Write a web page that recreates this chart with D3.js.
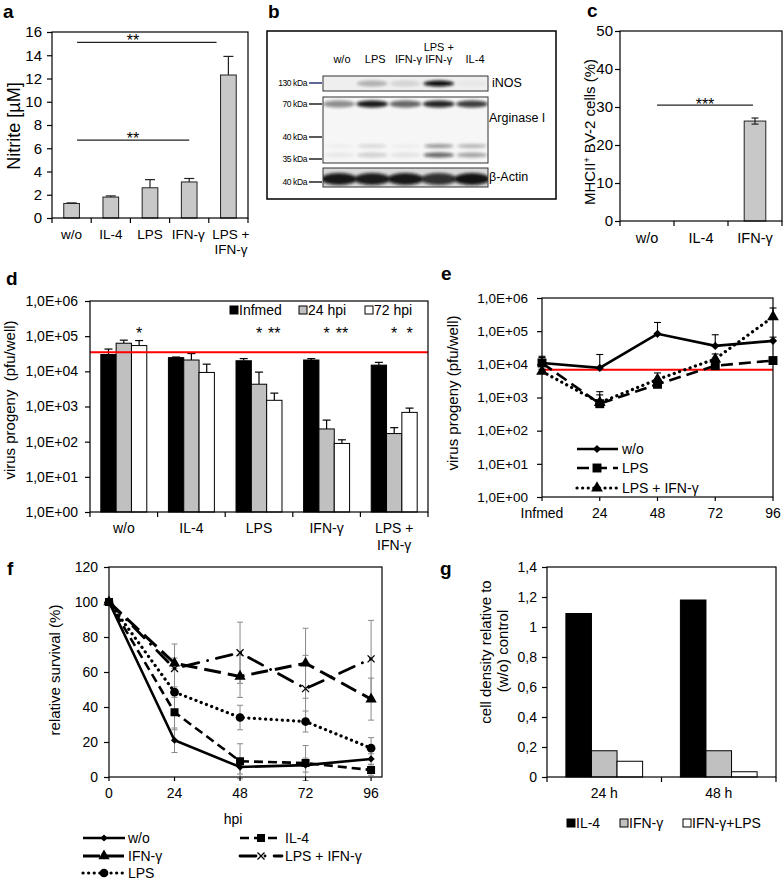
<!DOCTYPE html>
<html><head><meta charset="utf-8">
<script src="https://cdn.jsdelivr.net/npm/d3@7"></script>
<style>
body{margin:0;background:#fff}
text{font-family:"Liberation Sans",Arial,Helvetica,sans-serif;fill:#000}
</style>
</head><body>
<svg id="c" width="784" height="880"></svg>
<script>
// ---------------- DATA ----------------
// a: nitrite
const aCats = ["w/o","IL-4","LPS","IFN-γ","LPS + IFN-γ"];
const aVals = [1.25,1.8,2.6,3.1,12.3];
const aErr  = [0.05,0.1,0.7,0.3,1.6];
const aTicks = [0,2,4,6,8,10,12,14,16];
const aSig = [["w/o","LPS + IFN-γ",15.1,"**"],["w/o","IFN-γ",6.7,"**"]];
// b: western blot (band intensities 0..1)
const bLanes = ["w/o","LPS","IFN-γ","LPS + IFN-γ","IL-4"];
const bINOS  = [0.0,0.28,0.12,1.0,0.03];
const bArg70 = [0.45,0.95,0.62,0.9,0.8];
const bArg37 = [0.03,0.12,0.03,0.4,0.28];
const bArg35 = [0.06,0.16,0.08,0.62,0.35];
const bActin = [0.95,0.93,0.95,0.82,0.97];
const bMarkers = ["130 kDa","70 kDa","40 kDa","35 kDa","40 kDa"];
const bTargets = ["iNOS","Arginase I","β-Actin"];
// c: MHCII
const cCats = ["w/o","IL-4","IFN-γ"];
const cVals = [0,0,26.3];
const cErr  = [0,0,0.8];
const cTicks = [0,10,20,30,40,50];
// d: virus progeny bars
const dGroups = ["w/o","IL-4","LPS","IFN-γ","LPS + IFN-γ"];
const dSeries = ["Infmed","24 hpi","72 hpi"];
const dInfmed = [3.0e4,2.45e4,2.0e4,2.1e4,1.5e4];
const dInfmedErr = [1.3e4,0.1e4,0.3e4,0.2e4,0.3e4];
const d24 = [6.3e4,2.1e4,4.3e3,230,170];
const d24Err = [1.4e4,1.1e4,5.2e3,180,80];
const d72 = [5.4e4,9.3e3,1.5e3,89,680];
const d72Err = [2.1e4,6.7e3,0.9e3,24,220];
const dRef = 3.5e4;
const dStars = [["w/o","72 hpi","*"],["LPS","24 hpi","*"],["LPS","72 hpi","**"],["IFN-γ","24 hpi","*"],["IFN-γ","72 hpi","**"],["LPS + IFN-γ","24 hpi","*"],["LPS + IFN-γ","72 hpi","*"]];
const logTicks = [1,10,100,1e3,1e4,1e5,1e6];
// e: virus progeny kinetics
const eX = ["Infmed","24","48","72","96"];
const eWo = [1.1e4,7.8e3,8.3e4,3.6e4,5.1e4];
const eWoErr = [0.65e4,1.2e4,1.0e5,4.2e4,1.5e4];
const eLPS = [1.1e4,650,2.5e3,9.1e3,1.3e4];
const eLPSErr = [0.5e4,550,1.0e3,2.0e3,2.0e3];
const eLPSIFN = [6.1e3,700,3.5e3,1.45e4,2.7e5];
const eLPSIFNErr = [1.0e3,800,2.0e3,0.6e4,2.3e5];
const eRef = 6.9e3;
// f: relative survival
const fX = [0,24,48,72,96];
const fWo = [100,21,5.7,6.8,10.3];
const fWoErr = [0,7,4,4,3];
const fIL4 = [100,37,9,8,4];
const fIL4Err = [0,10,10,10,3];
const fIFN = [100,65,57.5,65,44.5];
const fIFNErr = [0,3,12,20,12];
const fLPSIFN = [100,62,71,50.5,67.5];
const fLPSIFNErr = [0,14,17.5,19,22];
const fLPS = [100,48.5,34,31.7,16.5];
const fLPSErr = [0,3,7,6,6];
const fYTicks = [0,20,40,60,80,100,120];
// g: cell density
const gCats = ["24 h","48 h"];
const gSeries = ["IL-4","IFN-γ","IFN-γ+LPS"];
const gIL4 = [1.09,1.18];
const gIFN = [0.175,0.175];
const gIFNLPS = [0.105,0.035];
const gTicks = [0,0.2,0.4,0.6,0.8,1,1.2,1.4];

// ---------------- HELPERS ----------------
const FONT = '"Liberation Sans", Arial, Helvetica, sans-serif';
const svg = d3.select("#c");
svg.append("rect").attr("width",784).attr("height",880).attr("fill","#fff");
const defs = svg.append("defs");
const blur = defs.append("filter").attr("id","blur").attr("x","-30%").attr("y","-100%").attr("width","160%").attr("height","300%");
blur.append("feGaussianBlur").attr("stdDeviation",1.4);

function txt(g,x,y,s,o={}){
  const t=g.append("text").attr("x",x).attr("y",y).text(s)
    .attr("font-size",o.size||14).attr("text-anchor",o.anchor||"middle");
  if(o.weight) t.attr("font-weight",o.weight);
  if(o.baseline) t.attr("dominant-baseline",o.baseline);
  if(o.rotate) t.attr("transform",`rotate(-90,${x},${y})`);
  return t;
}
function splitLabel(s){ return s.split(/(?<=\+) /); }
function multi(g,x,y,s,lh,o){ splitLabel(s).forEach((l,i)=>txt(g,x,y+i*lh,l,o)); }
function yAxis(g,scale,x,ticks,fmt,size,pad){
  const a=g.append("g").attr("transform",`translate(${x},0)`)
    .call(d3.axisLeft(scale).tickValues(ticks).tickFormat(fmt).tickSize(5).tickSizeOuter(0).tickPadding(pad));
  a.select(".domain").remove();
  a.attr("font-size",size).attr("font-family",FONT);
  a.selectAll("line").attr("stroke","#000").attr("stroke-width",1.2);
  a.selectAll("text").attr("fill","#000");
}
function xTicks(g,xs,y,len){
  xs.forEach(x=>g.append("line").attr("x1",x).attr("x2",x).attr("y1",y).attr("y2",y+len).attr("stroke","#000").attr("stroke-width",1.2));
}
function edges(scale,n){ const [r0,r1]=scale.range(); return d3.range(n+1).map(i=>r0+(r1-r0)*i/n); }
function frame(g,x0,y0,x1,y1){
  g.append("rect").attr("x",x0).attr("y",y0).attr("width",x1-x0).attr("height",y1-y0)
   .attr("fill","none").attr("stroke","#000").attr("stroke-width",1.2);
}
function line(g,x1,y1,x2,y2,c="#000",w=1){
  return g.append("line").attr("x1",x1).attr("y1",y1).attr("x2",x2).attr("y2",y2).attr("stroke",c).attr("stroke-width",w);
}
function errBar(g,cx,yFrom,yTo,cap,c="#000",w=1){
  line(g,cx,yFrom,cx,yTo,c,w);
  line(g,cx-cap/2,yTo,cx+cap/2,yTo,c,w);
}
function panelLabel(x,y,s){ txt(svg,x,y,s,{size:19,weight:"bold",anchor:"start"}); }

// ---------------- PANEL A ----------------
{
  const g=svg.append("g");
  const x=d3.scaleBand().domain(aCats).range([52,248]).paddingInner(0.6).paddingOuter(0.3);
  const y=d3.scaleLinear().domain([0,16]).range([218,32]);
  const bw=x.bandwidth();
  aCats.forEach((c,i)=>{
    g.append("rect").attr("x",x(c)).attr("y",y(aVals[i])).attr("width",bw).attr("height",y(0)-y(aVals[i]))
     .attr("fill","#c8c8c8").attr("stroke","#222").attr("stroke-width",1);
    errBar(g,x(c)+bw/2,y(aVals[i]),y(aVals[i]+aErr[i]),10,"#222",1.2);
    multi(g,x(c)+bw/2+(i===4?2.5:(i===3?-1:0)),239,c,14.5,{size:13.5});
  });
  yAxis(g,y,52,aTicks,d3.format("d"),15,5);
  xTicks(g,edges(x,aCats.length),218,5);
  frame(g,52,32,248,218);
  aSig.forEach(([f,t,v,s],i)=>{
    const x1=x(f)+bw*0.85;
    const x2=i===0? x(t)-4 : x(t)+bw/2;
    line(g,x1,y(v),x2,y(v),"#222",1.3);
    txt(g,x1+56,y(v)+3.5,s,{size:16});
  });
  txt(g,14,126,"Nitrite [µM]",{size:18,rotate:true,baseline:"central"});
  panelLabel(3,18,"a");
}

// ---------------- PANEL B ----------------
{
  const g=svg.append("g");
  g.append("rect").attr("x",267).attr("y",31).attr("width",289).attr("height",168).attr("fill","#fff").attr("stroke","#000").attr("stroke-width",1.5);
  const x=d3.scaleBand().domain(bLanes).range([323,488]).paddingInner(0.04);
  const bw=x.bandwidth();
  bLanes.forEach((l,k)=>{
    const parts=splitLabel(l);
    parts.forEach((p,i)=>txt(g,x(l)+bw/2+(k===3?0:3),63-(parts.length-1-i)*12,p,{size:11}));
  });
  const strips=[{y:76,h:15,fill:"#efefef"},{y:97,h:66,fill:"#f6f6f6"},{y:168,h:19,fill:"#d8d8d8"}];
  strips.forEach((s,k)=>{
    const id="clip"+k;
    defs.append("clipPath").attr("id",id).append("rect").attr("x",323).attr("y",s.y).attr("width",165).attr("height",s.h);
    g.append("rect").attr("x",323).attr("y",s.y).attr("width",165).attr("height",s.h).attr("fill",s.fill);
    s.g=g.append("g").attr("clip-path",`url(#${id})`);
  });
  function bands(sg,vals,cy,h,rxf){
    vals.forEach((v,i)=>{
      sg.append("ellipse").attr("cx",x(bLanes[i])+bw/2).attr("cy",cy).attr("rx",bw*rxf).attr("ry",h/2)
        .attr("fill","#0a0a0a").attr("opacity",v).attr("filter","url(#blur)");
    });
  }
  bands(strips[0].g,bINOS,83.5,6,0.48);
  bands(strips[1].g,bArg70,104,7,0.5);
  bands(strips[1].g,bArg37,146,4,0.46);
  bands(strips[1].g,bArg35,155,5,0.48);
  bands(strips[2].g,bActin,179,12,0.56);
  strips.forEach(s=>g.append("rect").attr("x",323).attr("y",s.y).attr("width",165).attr("height",s.h).attr("fill","none").attr("stroke","#333").attr("stroke-width",1));
  const my=[83,104,137,159,182];
  bMarkers.forEach((m,i)=>{
    g.append("text").attr("x",307).attr("y",my[i]).attr("dy","0.35em").attr("text-anchor","end")
     .attr("font-size",8.5).attr("letter-spacing",-0.4).attr("font-family",'"Liberation Sans Narrow","Liberation Sans",Arial').text(m);
    line(g,309,my[i],322,my[i],i===0?"#2a3470":"#222",1.5);
  });
  const ty=[83,118,177];
  bTargets.forEach((t,i)=>txt(g,i===0?492:489,ty[i],t,{size:12.5,anchor:"start",baseline:"central"}));
  panelLabel(268,18,"b");
}

// ---------------- PANEL C ----------------
{
  const g=svg.append("g");
  const x=d3.scaleBand().domain(cCats).range([620,782]).paddingInner(0.6).paddingOuter(0.3);
  const y=d3.scaleLinear().domain([0,50]).range([221,31]);
  const bw=x.bandwidth();
  cCats.forEach((c,i)=>{
    if(cVals[i]>0){
      g.append("rect").attr("x",x(c)).attr("y",y(cVals[i])).attr("width",bw).attr("height",y(0)-y(cVals[i]))
       .attr("fill","#c8c8c8").attr("stroke","#222").attr("stroke-width",1);
      errBar(g,x(c)+bw/2,y(cVals[i]-cErr[i]),y(cVals[i]+cErr[i]),7,"#222",1.2);
      line(g,x(c)+bw/2-3.5,y(cVals[i]-cErr[i]),x(c)+bw/2+3.5,y(cVals[i]-cErr[i]),"#222",1.2);
    }
    txt(g,x(c)+bw/2,243,c,{size:14.5});
  });
  yAxis(g,y,620,cTicks,d3.format("d"),15,2);
  xTicks(g,edges(x,cCats.length),221,5);
  frame(g,620,31,782,221);
  line(g,657,y(30.5),753,y(30.5),"#222",1.3);
  txt(g,705,y(30.5)+5,"***",{size:16});
  const t=g.append("text").attr("x",0).attr("y",0).attr("font-size",15).attr("text-anchor","middle")
    .attr("transform","translate(595,132) rotate(-90)");
  t.append("tspan").text("MHCII");
  t.append("tspan").attr("font-size",9).attr("baseline-shift","super").text("+");
  t.append("tspan").text(" BV-2 cells (%)");
  panelLabel(587,17,"c");
}

// ---------------- PANEL D ----------------
{
  const g=svg.append("g");
  const x0=d3.scaleBand().domain(dGroups).range([90,428]).paddingInner(0.32).paddingOuter(0.16);
  const x1=d3.scaleBand().domain(dSeries).range([0,x0.bandwidth()]);
  const y=d3.scaleLog().domain([1,1e6]).range([512,301]);
  const vals={"Infmed":dInfmed,"24 hpi":d24,"72 hpi":d72};
  const errs={"Infmed":dInfmedErr,"24 hpi":d24Err,"72 hpi":d72Err};
  const fills={"Infmed":"#000","24 hpi":"#c0c0c0","72 hpi":"#fff"};
  const bw=x1.bandwidth();
  dGroups.forEach((gr,i)=>{
    dSeries.forEach(s=>{
      const v=vals[s][i], e=errs[s][i], cx=x0(gr)+x1(s)+bw/2;
      errBar(g,cx,y(v),y(v+e),8,"#000",1.2);
      g.append("rect").attr("x",x0(gr)+x1(s)).attr("y",y(v)).attr("width",bw).attr("height",y(1)-y(v))
       .attr("fill",fills[s]).attr("stroke","#000").attr("stroke-width",1);
    });
    multi(g,x0(gr)+x0.bandwidth()/2,533,gr,17,{size:14});
  });
  line(g,90,y(dRef),428,y(dRef),"#ff0000",2);
  dStars.forEach(([gr,s,t])=>txt(g,x0(gr)+x1(s)+bw/2,339,t,{size:16}));
  yAxis(g,y,90,logTicks,d=>"1,0E+"+String(Math.round(Math.log10(d))).padStart(2,"0"),14,7);
  xTicks(g,edges(x0,dGroups.length),512,5);
  frame(g,90,301,428,512);
  const lx=[230,299,365];
  dSeries.forEach((s,i)=>{
    g.append("rect").attr("x",lx[i]).attr("y",306).attr("width",8).attr("height",8).attr("fill",fills[s]).attr("stroke","#000").attr("stroke-width",1);
    txt(g,lx[i]+9,315,s,{size:14,anchor:"start"});
  });
  txt(g,9,400,"virus progeny  (pfu/well)",{size:15,rotate:true,baseline:"central"}).style("white-space","pre");
  panelLabel(6,285,"d");
}

// ---------------- PANEL E ----------------
{
  const g=svg.append("g");
  const x=d3.scalePoint().domain(eX).range([542,773]);
  const y=d3.scaleLog().domain([1,1e6]).range([497,298]);
  const series=[
    {name:"w/o",v:eWo,e:eWoErr,dash:null,sym:"diamond"},
    {name:"LPS",v:eLPS,e:eLPSErr,dash:"12,6",sym:"square"},
    {name:"LPS + IFN-γ",v:eLPSIFN,e:eLPSIFNErr,dash:"0.1,5.5",sym:"triangle"}
  ];
  const symGen={diamond:d3.symbol(d3.symbolSquare,34),square:d3.symbol(d3.symbolSquare,80),triangle:d3.symbol(d3.symbolTriangle,60)};
  function marker(gg,type,cx,cy){
    gg.append("path").attr("d",symGen[type]()).attr("fill","#000")
      .attr("transform",`translate(${cx},${cy})`+(type==="diamond"?" rotate(45)":""));
  }
  line(g,542,y(eRef),773,y(eRef),"#ff0000",2);
  series.forEach(s=>s.v.forEach((v,i)=>errBar(g,x(eX[i]),y(v),y(v+s.e[i]),7,"#000",1.1)));
  const ln=d3.line().x((d,i)=>x(eX[i])).y(d=>y(d));
  series.forEach(s=>{
    const p=g.append("path").attr("d",ln(s.v)).attr("fill","none").attr("stroke","#000").attr("stroke-width",s.dash&&s.dash.startsWith("0.1")?3.2:2.6);
    if(s.dash){p.attr("stroke-dasharray",s.dash); if(s.dash.startsWith("0.1")) p.attr("stroke-linecap","round");}
    s.v.forEach((v,i)=>marker(g,s.sym,x(eX[i]),y(v)));
  });
  yAxis(g,y,542,logTicks,d=>"1,0E+"+String(Math.round(Math.log10(d))).padStart(2,"0"),13.5,9);
  xTicks(g,eX.map(d=>x(d)),497,4);
  frame(g,542,298,773,497);
  eX.forEach(d=>txt(g,x(d),518,d,{size:14}));
  const ly=[449,468,488];
  series.forEach((s,i)=>{
    const p=line(g,577,ly[i],618,ly[i],"#000",s.dash&&s.dash.startsWith("0.1")?3.2:2.6);
    if(s.dash){p.attr("stroke-dasharray",s.dash); if(s.dash.startsWith("0.1")) p.attr("stroke-linecap","round");}
    marker(g,s.sym,597,ly[i]);
    txt(g,622,ly[i]+5,s.name,{size:14,anchor:"start"});
  });
  txt(g,452,393,"virus progeny (pfu/well)",{size:15,rotate:true,baseline:"central"});
  panelLabel(441,280,"e");
}

// ---------------- PANEL F ----------------
{
  const g=svg.append("g");
  const x=d3.scaleLinear().domain([0,100]).range([109,382]);
  const y=d3.scaleLinear().domain([0,120]).range([777,567]);
  const series=[
    {name:"w/o",v:fWo,e:fWoErr,dash:null,w:2.6,sym:"diamond"},
    {name:"IFN-γ",v:fIFN,e:fIFNErr,dash:"17,7",w:3,sym:"triangle"},
    {name:"LPS + IFN-γ",v:fLPSIFN,e:fLPSIFNErr,dash:"16,9,0.1,9",w:2.8,sym:"cross",round:true},
    {name:"LPS",v:fLPS,e:fLPSErr,dash:"0.1,5.5",w:3.2,sym:"circle",round:true},
    {name:"IL-4",v:fIL4,e:fIL4Err,dash:"9,5",w:2.6,sym:"square"}
  ];
  const symGen={diamond:d3.symbol(d3.symbolSquare,26),square:d3.symbol(d3.symbolSquare,64),triangle:d3.symbol(d3.symbolTriangle,55),circle:d3.symbol(d3.symbolCircle,60)};
  function marker(gg,type,cx,cy){
    if(type==="cross"){
      const s=3.5;
      gg.append("path").attr("d",`M${cx-s},${cy-s}L${cx+s},${cy+s}M${cx-s},${cy+s}L${cx+s},${cy-s}`).attr("stroke","#000").attr("stroke-width",1.3).attr("fill","none");
      return;
    }
    gg.append("path").attr("d",symGen[type]()).attr("fill","#000")
      .attr("transform",`translate(${cx},${cy})`+(type==="diamond"?" rotate(45)":""));
  }
  series.forEach(s=>s.v.forEach((v,i)=>{
    if(s.e[i]>0){
      errBar(g,x(fX[i]),y(v-s.e[i]),y(v+s.e[i]),6,"#8a8a8a",1);
      line(g,x(fX[i])-3,y(v-s.e[i]),x(fX[i])+3,y(v-s.e[i]),"#8a8a8a",1);
    }
  }));
  const ln=d3.line().x((d,i)=>x(fX[i])).y(d=>y(d));
  function styl(p,s){ if(s.dash) p.attr("stroke-dasharray",s.dash); if(s.round) p.attr("stroke-linecap","round"); }
  series.forEach(s=>{
    styl(g.append("path").attr("d",ln(s.v)).attr("fill","none").attr("stroke","#000").attr("stroke-width",s.w),s);
  });
  series.forEach(s=>s.v.forEach((v,i)=>marker(g,s.sym,x(fX[i]),y(v))));
  yAxis(g,y,109,fYTicks,d3.format("d"),14,6);
  xTicks(g,fX.map(d=>x(d)),777,4);
  frame(g,109,567,382,777);
  fX.forEach(d=>txt(g,x(d),798,d,{size:14}));
  txt(g,233,824,"hpi",{size:14});
  const leg={"w/o":[83,838],"IL-4":[240,838],"IFN-γ":[83,856],"LPS + IFN-γ":[240,856],"LPS":[83,873]};
  series.forEach(s=>{
    const [lx,ly]=leg[s.name];
    styl(line(g,lx,ly,lx+42,ly,"#000",s.w),s);
    marker(g,s.sym,lx+21,ly);
    txt(g,lx+45,ly+5,s.name,{size:14,anchor:"start"});
  });
  txt(g,54,670,"relative survival (%)",{size:15,rotate:true,baseline:"central"});
  panelLabel(7,575,"f");
}

// ---------------- PANEL G ----------------
{
  const g=svg.append("g");
  const x0=d3.scaleBand().domain(gCats).range([547,776]).paddingInner(0.33).paddingOuter(0.165);
  const x1=d3.scaleBand().domain(gSeries).range([0,x0.bandwidth()]);
  const y=d3.scaleLinear().domain([0,1.4]).range([777,567]);
  const vals={"IL-4":gIL4,"IFN-γ":gIFN,"IFN-γ+LPS":gIFNLPS};
  const fills={"IL-4":"#000","IFN-γ":"#c0c0c0","IFN-γ+LPS":"#fff"};
  const bw=x1.bandwidth();
  gCats.forEach((c,i)=>{
    gSeries.forEach(s=>{
      const v=vals[s][i];
      g.append("rect").attr("x",x0(c)+x1(s)).attr("y",y(v)).attr("width",bw).attr("height",y(0)-y(v))
       .attr("fill",fills[s]).attr("stroke","#000").attr("stroke-width",1);
    });
    txt(g,x0(c)+x0.bandwidth()/2,798,c,{size:14});
  });
  yAxis(g,y,547,gTicks,d=>String(+d.toFixed(1)).replace(".",","),14,5);
  xTicks(g,edges(x0,gCats.length),777,5);
  frame(g,547,567,776,777);
  const lx=[567,620,683];
  gSeries.forEach((s,i)=>{
    g.append("rect").attr("x",lx[i]).attr("y",819).attr("width",8).attr("height",8).attr("fill",fills[s]).attr("stroke","#000").attr("stroke-width",1);
    txt(g,lx[i]+9,828,s,{size:14,anchor:"start"});
  });
  txt(g,485,652,"cell density relative to",{size:15,rotate:true,baseline:"central"});
  txt(g,502,651,"(w/o) control",{size:15,rotate:true,baseline:"central"});
  panelLabel(440,575,"g");
}
</script>
</body></html>
